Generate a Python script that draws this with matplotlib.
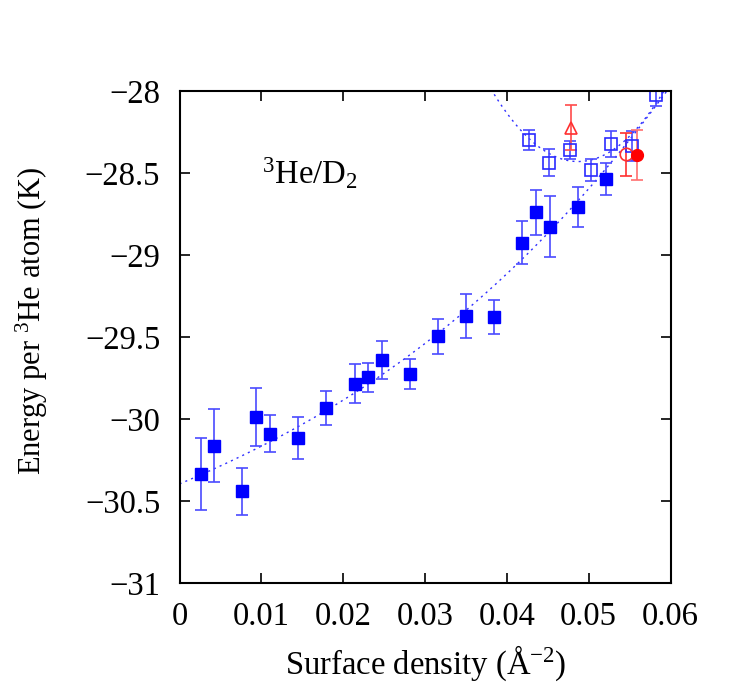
import matplotlib
matplotlib.use("Agg")
import matplotlib.pyplot as plt
import numpy as np

plt.rcParams['font.family'] = ['Liberation Serif', 'DejaVu Serif']
plt.rcParams['mathtext.fontset'] = 'custom'
plt.rcParams['mathtext.rm'] = 'Liberation Serif'
plt.rcParams['mathtext.it'] = 'Liberation Serif:italic'

# liquid phase (filled squares)
x_liq = [0.00262, 0.00425, 0.00768, 0.0094, 0.01107, 0.01449, 0.01792, 0.02138, 0.02306,
         0.02477, 0.0282, 0.03163, 0.03502, 0.03848, 0.04191, 0.04358, 0.0453, 0.04873, 0.05216]
y_liq = [-30.335, -30.163, -30.44, -29.988, -30.09, -30.116, -29.933, -29.785, -29.746,
         -29.642, -29.727, -29.496, -29.372, -29.376, -28.925, -28.74, -28.827, -28.707, -28.535]
e_liq = [0.218, 0.224, 0.143, 0.177, 0.114, 0.126, 0.103, 0.12, 0.09,
         0.116, 0.09, 0.108, 0.136, 0.104, 0.13, 0.135, 0.186, 0.12, 0.098]

# solid phase (open squares)
x_sol = [0.04268, 0.04521, 0.0477, 0.05023, 0.05272, 0.05525, 0.05827]
y_sol = [-28.299, -28.437, -28.36, -28.482, -28.323, -28.335, -28.024]
e_sol = [0.061, 0.081, 0.055, 0.069, 0.08, 0.093, 0.067]

# red points
x_tri, y_tri, e_tri = [0.04787], [-28.223], [0.135]
x_oc, y_oc, e_oc = [0.0546], [-28.386], [0.13]
x_fc, y_fc, e_fc = [0.05586], [-28.39], [0.15]

# fit curves
liq_fit = [2400.0, 180.0, 21.0, -30.396]   # cubic coefficients
sol_min_x, sol_min_y, sol_k = 0.0487, -28.43, 3900.0

fig = plt.figure(figsize=(7.47, 6.97), dpi=100)
ax = fig.add_axes([0.2404, 0.1636, 0.6572, 0.7058])

xx = np.linspace(0, 0.06, 400)
ax.plot(xx, np.polyval(liq_fit, xx), ls=(0, (1.5, 3)), color='#3030ff', lw=1)
ax.plot(xx, sol_min_y + sol_k*(xx - sol_min_x)**2, ls=(0, (1.5, 3)), color='#3030ff', lw=1)

ax.errorbar(x_liq, y_liq, yerr=e_liq, fmt='s', color='blue', ms=8.5, mec='blue',
            ecolor='#4a4aff', elinewidth=1.2, capsize=4, capthick=1.2)
ax.errorbar(x_sol, y_sol, yerr=e_sol, fmt='s', mfc='none', mec='#2a2aff', ms=8.5, mew=1.2,
            ecolor='#4a4aff', elinewidth=1.2, capsize=4, capthick=1.2)
ax.errorbar(x_tri, y_tri, yerr=e_tri, fmt='^', mfc='none', mec='#ff3030', ms=9, mew=1.2,
            ecolor='#ff4a4a', elinewidth=1.2, capsize=4, capthick=1.2)
ax.errorbar(x_oc, y_oc, yerr=e_oc, fmt='o', mfc='none', mec='#ff3030', ms=9, mew=1.2,
            ecolor='#ff3030', elinewidth=1.2, capsize=4, capthick=1.2)
ax.errorbar(x_fc, y_fc, yerr=e_fc, fmt='o', color='red', ms=8.5,
            ecolor='#ff7070', elinewidth=1.2, capsize=4, capthick=1.2)

ax.set_xlim(0, 0.06)
ax.set_ylim(-31, -28)
ax.set_xticks([0, 0.01, 0.02, 0.03, 0.04, 0.05, 0.06])
ax.set_xticklabels(['0', '0.01', '0.02', '0.03', '0.04', '0.05', '0.06'])
ax.set_yticks([-31, -30.5, -30, -29.5, -29, -28.5, -28])
ax.set_yticklabels(['\u221231', '\u221230.5', '\u221230', '\u221229.5', '\u221229', '\u221228.5', '\u221228'])
ax.tick_params(direction='in', top=True, right=True, length=7, width=1.2, labelsize=23.5)
ax.tick_params(axis='x', pad=13)
ax.tick_params(axis='y', pad=14)
for s in ax.spines.values():
    s.set_linewidth(1.5)

fig.text(0.5696, 0.049, 'Surface density (\u00c5$^{\u22122}$)', fontsize=23.5, ha='center', va='center')
fig.text(0.043, 0.540, 'Energy per $^{3}$He atom (K)', fontsize=22, rotation=90,
         ha='center', va='center')
ax.text(0.01005, -28.569, '$^{3}$He/D$_{2}$', fontsize=23.5, va='baseline')

fig.savefig('out.png', dpi=100)
